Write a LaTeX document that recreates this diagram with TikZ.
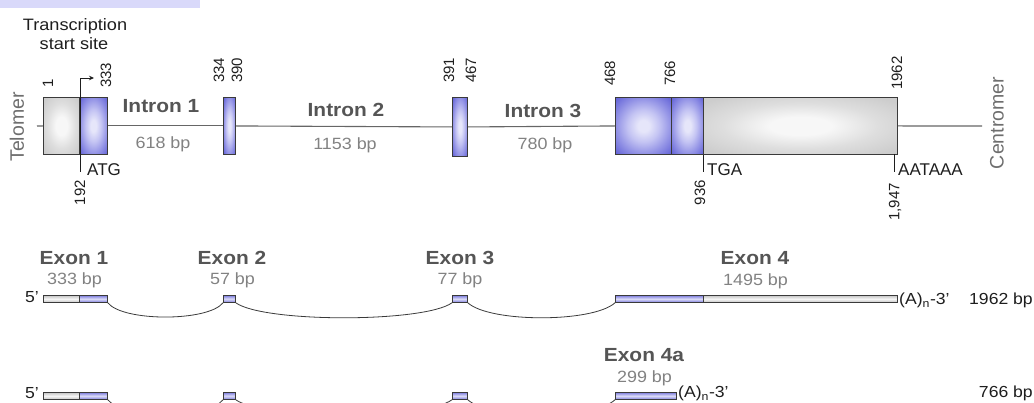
\documentclass[tikz,border=0pt]{standalone}
\usepackage{fontspec}
\setmainfont{Liberation Sans}[FakeStretch=1.1]
\newfontfamily\plainsans{Liberation Sans}
\usetikzlibrary{arrows.meta}

\definecolor{tabfill}{HTML}{D9D9FA}
\definecolor{boxline}{HTML}{3A3A3A}
\definecolor{axisline}{HTML}{666666}
\definecolor{exonblue}{HTML}{6666D8}
\definecolor{exonmid}{HTML}{9494E6}
\definecolor{exonpale}{HTML}{C4C4F3}
\definecolor{exonlight}{HTML}{E6E6FA}
\definecolor{utrgray}{HTML}{CDCDCD}
\definecolor{utrmid}{HTML}{DEDEDE}
\definecolor{utrwhite}{HTML}{F7F7F7}
\definecolor{barblue}{HTML}{7C7CDE}
\definecolor{barlight}{HTML}{DCDCF7}
\definecolor{bargray}{HTML}{C4C4C4}
\definecolor{barwhite}{HTML}{F6F6F6}
\definecolor{headtext}{HTML}{555555}
\definecolor{subtext}{HTML}{828282}
\definecolor{sidetext}{HTML}{6E6E6E}
\definecolor{numtext}{HTML}{1E1E1E}

% soft glows for the exon boxes of the gene
\pgfdeclareradialshading{exonglow}{\pgfpointorigin}{%
  color(0bp)=(exonlight); color(5bp)=(exonlight); color(14bp)=(exonpale);
  color(24bp)=(exonmid); color(34bp)=(exonblue); color(50bp)=(exonblue)}
\pgfdeclareradialshading{utrglow}{\pgfpointorigin}{%
  color(0bp)=(utrwhite); color(8bp)=(utrwhite); color(20bp)=(utrmid);
  color(32bp)=(utrgray); color(50bp)=(utrgray)}

\begin{document}
\begin{tikzpicture}[x=1pt,y=1pt,
  genebox/.style={draw=boxline, line width=0.9pt, inner sep=0pt, minimum height=57pt, anchor=north west},
  codingbox/.style={genebox, shade, shading=exonglow},
  utrbox/.style={genebox, shade, shading=utrglow},
  bar/.style={draw=boxline, line width=0.8pt, inner sep=0pt, minimum height=7pt, anchor=north west},
  codingbar/.style={bar, top color=barblue, bottom color=barblue, middle color=barlight},
  utrbar/.style={bar, top color=bargray, bottom color=bargray, middle color=barwhite},
  backbone/.style={draw=axisline, line width=1.1pt},
  splice/.style={draw=boxline, line width=0.8pt},
  tick/.style={draw=numtext, line width=0.8pt},
  poslabel/.style={rotate=90, inner sep=0pt, text=numtext, font=\plainsans\fontsize{15}{15}\selectfont},
  sitelabel/.style={anchor=base west, inner sep=0pt, text=numtext, font=\plainsans\fontsize{17}{17}\selectfont},
  sidelabel/.style={rotate=90, inner sep=0pt, text=sidetext, font=\plainsans\fontsize{19.5}{19.5}\selectfont},
  intronname/.style={anchor=base, inner sep=0pt, text=headtext, font=\bfseries\fontsize{19}{19}\selectfont},
  sizelabel/.style={anchor=base, inner sep=0pt, text=subtext, font=\fontsize{16.3}{16.3}\selectfont},
  endlabel/.style={anchor=base west, inner sep=0pt, text=numtext, font=\fontsize{16}{16}\selectfont},
]
\useasboundingbox (0,0) rectangle (1034,-403);
\clip (0,0) rectangle (1034,-403);

% tab in the upper left corner
\fill[tabfill] (0,0) rectangle (200,-8);

% ---------------- genomic structure ----------------
\coordinate (tel) at (37,-126);
\coordinate (cen) at (982,-126);

\node[utrbox,    minimum width=36pt] (e1g) at (43,-97) {};
\node[codingbox, minimum width=28pt] (e1b) at (79,-97) {};
\node[codingbox, minimum width=12pt] (e2)  at (223,-97) {};
\node[codingbox, minimum width=15pt, minimum height=59pt] (e3) at (452,-97) {};
\node[codingbox, minimum width=56pt] (e4a) at (615,-97) {};
\node[codingbox, minimum width=32pt] (e4b) at (671,-97) {};
\node[utrbox,    minimum width=194pt] (e4c) at (703,-97) {};

\draw[backbone] (tel) -- (e1g.west);
\draw[backbone] (e1b.east) -- (e2.west);
\draw[backbone] (e2.east) -- (e3.west);
\draw[backbone] (e3.east) -- (e4a.west);
\draw[backbone] (e4c.east) -- (cen);

% transcription start site arrow
\coordinate (tssfoot) at (80,-172);
\coordinate (tsshead) at (94,-78);
\draw[tick, -{Stealth[length=5pt,width=4.5pt]}] (tssfoot) |- (tsshead);

% stop codon and polyadenylation signal ticks
\coordinate (tgafoot) at (703,-172);
\draw[tick] (e4c.south west) -- (tgafoot);
\coordinate (polytop) at (894,-154);
\coordinate (polyfoot) at (894,-172);
\draw[tick] (polytop) -- (polyfoot);

% side labels
\node[sidelabel] (telomer) at (17,-127) {Telomer};
\node[sidelabel] (centromer) at (997,-123) {Centromer};

% transcription start label
\node[anchor=base, inner sep=0pt, text=numtext, font=\fontsize{16.5}{16.5}\selectfont] (tsl1) at (75,-31) {Transcription};
\node[anchor=base, inner sep=0pt, text=numtext, font=\fontsize{16.5}{16.5}\selectfont] (tsl2) at (74,-50) {start site};

% positions above the boxes
\node[poslabel, anchor=west] (p1)    at (48,-88)  {1};
\node[poslabel, anchor=west] (p333)  at (106,-88) {333};
\node[poslabel, anchor=west] (p334)  at (219,-83) {334};
\node[poslabel, anchor=west] (p390)  at (237,-83) {390};
\node[poslabel, anchor=west] (p391)  at (449,-83) {391};
\node[poslabel, anchor=west] (p467)  at (471,-83) {467};
\node[poslabel, anchor=west] (p468)  at (610,-86) {468};
\node[poslabel, anchor=west] (p766)  at (670,-86) {766};
\node[poslabel, anchor=west] (p1962) at (897,-90) {1962};

% positions below the boxes
\node[poslabel, anchor=east] (p192)  at (80,-180)  {192};
\node[poslabel, anchor=east] (p936)  at (700,-180) {936};
\node[poslabel, anchor=east] (p1947) at (895,-183) {1,947};

\node[sitelabel] (atg)    at (87,-176)  {ATG};
\node[sitelabel] (tga)    at (707,-176) {TGA};
\node[sitelabel] (aataaa) at (898,-176) {AATAAA};

% intron names and sizes
\node[intronname] (i1) at (161,-113) {Intron 1};
\node[sizelabel]  (i1s) at (163,-149) {618 bp};
\node[intronname] (i2) at (346,-117) {Intron 2};
\node[sizelabel]  (i2s) at (345,-150) {1153 bp};
\node[intronname] (i3) at (543,-118) {Intron 3};
\node[sizelabel]  (i3s) at (545,-150) {780 bp};

% ---------------- full-length transcript ----------------
\node[utrbar,    minimum width=36pt]  (r1e1g) at (43,-295) {};
\node[codingbar, minimum width=28pt]  (r1e1b) at (79,-295) {};
\node[codingbar, minimum width=12pt]  (r1e2)  at (223,-295) {};
\node[codingbar, minimum width=15pt]  (r1e3)  at (452,-295) {};
\node[codingbar, minimum width=88pt]  (r1e4b) at (615,-295) {};
\node[utrbar,    minimum width=194pt] (r1e4g) at (703,-295) {};

\draw[splice] (r1e1b.south east) .. controls +(15,-19) and +(-15,-19) .. (r1e2.south west);
\draw[splice] (r1e2.south east) .. controls +(28,-20) and +(-28,-20) .. (r1e3.south west);
\draw[splice] (r1e3.south east) .. controls +(22,-20) and +(-22,-20) .. (r1e4b.south west);

\node[endlabel] (r1five) at (25,-303) {5'};
\node[endlabel] (r1tail) at (899,-305) {(A)\textsubscript{n}-3'};
\node[endlabel, anchor=base east] (r1len) at (1033,-305) {1962 bp};

\node[intronname] (x1)  at (74,-265)  {Exon 1};
\node[sizelabel]  (x1s) at (74.5,-285) {333 bp};
\node[intronname] (x2)  at (232,-265) {Exon 2};
\node[sizelabel]  (x2s) at (232.5,-285) {57 bp};
\node[intronname] (x3)  at (460,-265) {Exon 3};
\node[sizelabel]  (x3s) at (460,-285) {77 bp};
\node[intronname] (x4)  at (755,-265) {Exon 4};
\node[sizelabel]  (x4s) at (755.5,-286) {1495 bp};

% ---------------- short transcript ----------------
\node[utrbar,    minimum width=36pt] (r2e1g) at (43,-392) {};
\node[codingbar, minimum width=28pt] (r2e1b) at (79,-392) {};
\node[codingbar, minimum width=12pt] (r2e2)  at (223,-392) {};
\node[codingbar, minimum width=15pt] (r2e3)  at (452,-392) {};
\node[codingbar, minimum width=61pt] (r2e4)  at (615,-392) {};

\draw[splice] (r2e1b.south east) .. controls +(15,-19) and +(-15,-19) .. (r2e2.south west);
\draw[splice] (r2e2.south east) .. controls +(28,-20) and +(-28,-20) .. (r2e3.south west);
\draw[splice] (r2e3.south east) .. controls +(22,-20) and +(-22,-20) .. (r2e4.south west);

\node[endlabel] (r2five) at (25,-399) {5'};
\node[endlabel] (r2tail) at (678,-398) {(A)\textsubscript{n}-3'};
\node[endlabel, anchor=base east] (r2len) at (1033,-397) {766 bp};

\node[intronname] (x4a)  at (644,-362) {Exon 4a};
\node[sizelabel]  (x4as) at (644.5,-382) {299 bp};
\end{tikzpicture}
\end{document}
